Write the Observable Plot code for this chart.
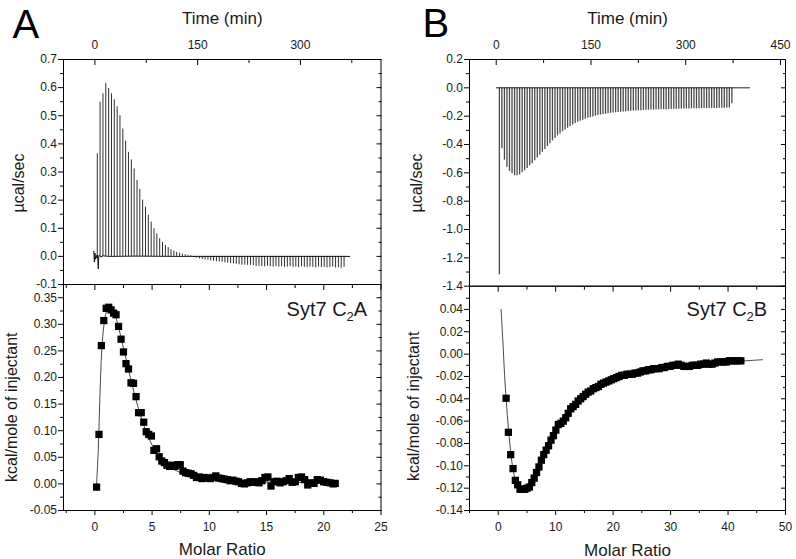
<!DOCTYPE html>
<html><head><meta charset="utf-8">
<script src="https://cdn.jsdelivr.net/npm/d3@7"></script>
<script src="https://cdn.jsdelivr.net/npm/@observablehq/plot@0.6"></script>
<style>
html,body{margin:0;padding:0;background:#fff;}
#chart{position:relative;width:796px;height:559px;overflow:hidden;background:#fff;}
#chart svg{position:absolute;left:0;top:0;}
</style></head><body><div id="chart"></div>
<script>
const W = 796, H = 559;
const FONT = '"Liberation Sans", Arial, Helvetica, sans-serif';

// ---------- Panel A (Syt7 C2A) raw thermogram ----------
const timeA = [3.5,7.6,11.8,15.9,20.1,24.2,28.3,32.5,36.6,40.8,44.9,49.0,53.2,57.3,61.5,65.6,69.7,73.9,78.0,82.2,
  86.3,90.4,94.6,98.7,102.9,107.0,111.1,115.3,119.4,123.6,127.7,131.8,136.0,140.1,144.3,148.4,152.5,156.7,160.8,165.0,
  169.1,173.2,177.4,181.5,185.7,189.8,193.9,198.1,202.2,206.4,210.5,214.6,218.8,222.9,227.1,231.2,235.3,239.5,243.6,247.8,
  251.9,256.0,260.2,264.3,268.5,272.6,276.7,280.9,285.0,289.2,293.3,297.4,301.6,305.7,309.9,314.0,318.1,322.3,326.4,330.6,
  334.7,338.8,343.0,347.1,351.3,355.4,359.5,363.7];
const peakA = [0.365,0.548,0.578,0.615,0.597,0.578,0.557,0.532,0.500,0.453,0.410,0.370,0.343,0.311,0.270,0.238,0.200,0.175,0.146,0.122,
  0.098,0.080,0.063,0.050,0.039,0.031,0.024,0.019,0.014,0.011,0.008,0.006,0.004,0.003,-0.004,-0.006,-0.009,-0.011,-0.013,-0.014,
  -0.016,-0.017,-0.019,-0.020,-0.021,-0.023,-0.024,-0.026,-0.027,-0.028,-0.030,-0.031,-0.031,-0.032,-0.032,-0.033,-0.036,-0.035,-0.036,-0.037,
  -0.035,-0.037,-0.038,-0.036,-0.038,-0.037,-0.039,-0.038,-0.036,-0.039,-0.038,-0.040,-0.037,-0.039,-0.040,-0.038,-0.039,-0.041,-0.038,-0.040,
  -0.039,-0.041,-0.040,-0.038,-0.041,-0.040,-0.042,-0.039];
const baseTimeA = [-1.5,-0.8,0,1.0,2.0,3.0,4.0,5.0,5.6,6.2,8,12,20,60,120,200,372];
const baseValA  = [0.018,-0.020,0.012,-0.010,0.004,-0.006,0.003,-0.045,0.000,0.004,-0.002,0.002,0.000,0.001,0.000,0.000,0.000];

// ---------- Panel A integrated heats ----------
const ratioA = [0.15,0.36,0.57,0.78,0.99,1.21,1.42,1.64,1.85,2.07,2.29,2.50,2.72,2.94,3.16,3.38,3.60,3.82,4.05,4.27,
  4.49,4.71,4.94,5.16,5.39,5.62,5.85,6.07,6.30,6.53,6.77,7.00,7.23,7.46,7.70,7.93,8.17,8.41,8.64,8.88,
  9.12,9.36,9.60,9.84,10.09,10.33,10.57,10.82,11.06,11.31,11.56,11.81,12.06,12.31,12.56,12.81,13.06,13.32,13.57,13.83,
  14.09,14.34,14.60,14.86,15.12,15.39,15.65,15.91,16.18,16.44,16.71,16.98,17.24,17.51,17.78,18.06,18.33,18.60,18.88,19.15,
  19.43,19.71,19.99,20.27,20.55,20.83,21.00];
const heatA = [-0.006,0.093,0.260,0.307,0.330,0.332,0.327,0.321,0.318,0.296,0.272,0.248,0.226,0.216,0.190,0.189,0.164,0.134,0.134,0.116,
  0.098,0.093,0.090,0.063,0.066,0.051,0.043,0.040,0.035,0.033,0.035,0.033,0.036,0.036,0.024,0.021,0.020,0.019,0.016,0.012,
  0.013,0.010,0.012,0.011,0.010,0.012,0.015,0.011,0.010,0.009,0.008,0.006,0.007,0.005,0.004,0.001,0.000,0.002,0.004,0.003,
  0.004,0.002,0.006,0.012,0.013,-0.004,0.004,0.005,0.002,0.004,0.006,0.010,0.003,0.004,0.012,0.013,0.008,-0.002,0.002,0.001,
  0.008,0.007,0.004,0.003,0.002,0.000,0.001];
const fitRatioA = [0.12,0.3,0.45,0.6,0.8,1.0,1.2,1.4,1.6,1.8,2.0,2.2,2.5,2.8,3.1,3.4,3.7,4.0,4.3,4.6,5.0,5.5,6.0,6.5,7.0,8.0,9.0,10,12,14,17,21];
const fitHeatA  = [-0.012,0.065,0.170,0.250,0.300,0.323,0.332,0.331,0.325,0.315,0.300,0.283,0.255,0.228,0.200,0.174,0.150,0.128,0.109,0.092,0.073,0.055,0.042,0.033,0.026,0.017,0.012,0.009,0.006,0.004,0.003,0.002];

// ---------- Panel B (Syt7 C2B) raw thermogram ----------
const timeB = [5,9,13,17,21,25,29,33,37,41,45,49,53,57,61,65,69,73,77,81,85,89,93,97,101,105,109,113,117,121,
  125,129,133,137,141,145,149,153,157,161,165,169,173,177,181,185,189,193,197,201,205,209,213,217,221,225,229,233,237,241,
  245,249,253,257,261,265,269,273,277,281,285,289,293,297,301,305,309,313,317,321,325,329,333,337,341,345,349,353,357,361,
  365,369,373];
const peakB = [-1.32,-0.43,-0.51,-0.56,-0.59,-0.607,-0.62,-0.62,-0.615,-0.60,-0.585,-0.57,-0.55,-0.535,-0.515,-0.495,-0.475,-0.455,-0.435,-0.415,
  -0.395,-0.375,-0.357,-0.340,-0.325,-0.310,-0.297,-0.285,-0.273,-0.262,-0.252,-0.243,-0.235,-0.228,-0.221,-0.215,-0.210,-0.205,-0.200,-0.196,
  -0.192,-0.189,-0.186,-0.183,-0.180,-0.178,-0.176,-0.174,-0.172,-0.170,-0.168,-0.167,-0.165,-0.164,-0.163,-0.162,-0.161,-0.160,-0.159,-0.158,
  -0.157,-0.157,-0.156,-0.155,-0.155,-0.154,-0.154,-0.153,-0.152,-0.152,-0.151,-0.151,-0.150,-0.150,-0.149,-0.149,-0.148,-0.148,-0.148,-0.147,
  -0.147,-0.146,-0.146,-0.146,-0.145,-0.145,-0.145,-0.144,-0.144,-0.144,-0.143,-0.143,-0.113];
const baseTimeB = [0,401];
const baseValB  = [0,0];

// ---------- Panel B integrated heats ----------
const ratioB = [1.37,1.77,2.17,2.58,2.98,3.39,3.79,4.20,4.61,5.02,5.43,5.84,6.26,6.67,7.09,7.51,7.92,8.34,8.76,9.19,
  9.61,10.03,10.46,10.89,11.32,11.75,12.18,12.61,13.04,13.48,13.91,14.35,14.79,15.22,15.66,16.10,16.55,16.99,17.44,17.88,
  18.33,18.78,19.23,19.68,20.13,20.59,21.04,21.50,21.95,22.41,22.87,23.33,23.79,24.26,24.72,25.19,25.65,26.12,26.59,27.06,
  27.53,28.00,28.48,28.95,29.43,29.90,30.38,30.86,31.34,31.83,32.31,32.79,33.28,33.77,34.26,34.75,35.24,35.73,36.22,36.72,
  37.21,37.71,38.21,38.71,39.21,39.71,40.21,40.71,41.22,41.73,42.23];
const heatB = [-0.0395,-0.070,-0.090,-0.1025,-0.113,-0.117,-0.121,-0.121,-0.121,-0.120,-0.119,-0.115,-0.111,-0.106,-0.101,-0.095,-0.090,-0.086,-0.082,-0.077,
  -0.073,-0.068,-0.063,-0.062,-0.060,-0.057,-0.053,-0.049,-0.047,-0.045,-0.042,-0.040,-0.038,-0.036,-0.034,-0.033,-0.031,-0.030,-0.029,-0.027,
  -0.026,-0.025,-0.024,-0.023,-0.022,-0.021,-0.020,-0.019,-0.019,-0.018,-0.018,-0.018,-0.017,-0.017,-0.016,-0.015,-0.015,-0.014,-0.014,-0.013,
  -0.013,-0.013,-0.012,-0.012,-0.011,-0.011,-0.010,-0.010,-0.009,-0.010,-0.011,-0.011,-0.011,-0.010,-0.010,-0.010,-0.009,-0.009,-0.008,-0.009,
  -0.009,-0.008,-0.007,-0.007,-0.007,-0.007,-0.006,-0.006,-0.006,-0.006,-0.006];
const fitRatioB = [0.5,0.8,1.1,1.4,1.8,2.2,2.6,3.0,3.5,4.0,4.5,5.0,5.5,6.0,7.0,8.0,9.0,10,11,12,13,14,15,16,18,20,22,24,26,28,30,33,36,40,43,46];
const fitHeatB  = [0.040,0.012,-0.018,-0.042,-0.068,-0.089,-0.104,-0.113,-0.119,-0.121,-0.121,-0.1195,-0.117,-0.113,-0.102,-0.090,-0.079,-0.069,-0.061,-0.054,-0.048,-0.042,-0.037,-0.033,-0.027,-0.022,-0.019,-0.017,-0.015,-0.013,-0.011,-0.010,-0.008,-0.007,-0.006,-0.005];

// ---------- tick values / labels ----------
const timeTicksA = [0,150,300], timeMinorA = [75,225,375];
const muTicksA = [-0.1,0,0.1,0.2,0.3,0.4,0.5,0.6,0.7];
const muMinorA = [-0.05,0.05,0.15,0.25,0.35,0.45,0.55,0.65];
const heatTicksA = [-0.05,0,0.05,0.1,0.15,0.2,0.25,0.3,0.35];
const heatMinorA = [-0.025,0.025,0.075,0.125,0.175,0.225,0.275,0.325];
const ratioTicksA = [0,5,10,15,20,25], ratioMinorA = [-2.5,2.5,7.5,12.5,17.5,22.5];

const timeTicksB = [0,150,300,450], timeMinorB = [75,225,375];
const muTicksB = [-1.4,-1.2,-1.0,-0.8,-0.6,-0.4,-0.2,0,0.2];
const muMinorB = [-1.3,-1.1,-0.9,-0.7,-0.5,-0.3,-0.1,0.1];
const heatTicksB = [-0.14,-0.12,-0.10,-0.08,-0.06,-0.04,-0.02,0,0.02,0.04];
const heatMinorB = [-0.13,-0.11,-0.09,-0.07,-0.05,-0.03,-0.01,0.01,0.03,0.05];
const ratioTicksB = [0,10,20,30,40,50], ratioMinorB = [-5,5,15,25,35,45];

const labelsText = {
  panelA: "A", panelB: "B", time: "Time (min)", power: "µcal/sec",
  heat: "kcal/mole of injectant", ratio: "Molar Ratio", nameA: "Syt7 C2A", nameB: "Syt7 C2B"
};

// ---------- tables ----------
const spikesA = timeA.map((t, i) => ({t, v: peakA[i]}));
const spikesB = timeB.map((t, i) => ({t, v: peakB[i]}));
const baseA = baseTimeA.map((t, i) => ({t, v: baseValA[i]}));
const baseB = baseTimeB.map((t, i) => ({t, v: baseValB[i]}));
const ptsA = ratioA.map((r, i) => ({r, h: heatA[i]}));
const ptsB = ratioB.map((r, i) => ({r, h: heatB[i]}));
const fitA = fitRatioA.map((r, i) => ({r, h: fitHeatA[i]}));
const fitB = fitRatioB.map((r, i) => ({r, h: fitHeatB[i]}));

const fmt = n => d => d.toFixed(n);
const TXT = "#1a1a1a";
const TICKFONT = 12;

function frameAxes(o) {
  const m = [Plot.frame({stroke: "#000", strokeWidth: 1})];
  // left axis: labelled major ticks outward + minor outward
  m.push(Plot.axisY(o.yTicks, {anchor: "left", tickSize: 5, tickPadding: 1.5, tickFormat: o.yFmt, fill: TXT, label: null, fontSize: TICKFONT}));
  m.push(Plot.axisY(o.yMinor, {anchor: "left", tickSize: 3, fill: "none", label: null}));
  // right axis: inward ticks
  m.push(Plot.axisY(o.yTicks, {anchor: "right", tickSize: 5, dx: -5, fill: "none", label: null}));
  m.push(Plot.axisY(o.yMinor, {anchor: "right", tickSize: 3, dx: -3, fill: "none", label: null}));
  if (o.xAnchor === "top") {
    m.push(Plot.axisX(o.xTicks, {anchor: "top", tickSize: 0, tickPadding: 10.7, tickFormat: o.xFmt, fill: TXT, label: null, fontSize: TICKFONT}));
    m.push(Plot.axisX(o.xTicks, {anchor: "top", tickSize: 5, dy: 5, fill: "none", label: null}));
    m.push(Plot.axisX(o.xMinor, {anchor: "top", tickSize: 3, dy: 3, fill: "none", label: null}));
  } else {
    m.push(Plot.axisX(o.xTicks, {anchor: "bottom", tickSize: 5, tickPadding: 6.5, tickFormat: o.xFmt, fill: TXT, label: null, fontSize: TICKFONT}));
    m.push(Plot.axisX(o.xMinor, {anchor: "bottom", tickSize: 3, fill: "none", label: null}));
    // inward ticks along the top edge (shared border with the upper panel)
    m.push(Plot.axisX(o.xTicks, {anchor: "top", tickSize: 5, dy: 5, fill: "none", label: null}));
    m.push(Plot.axisX(o.xMinor, {anchor: "top", tickSize: 3, dy: 3, fill: "none", label: null}));
  }
  return m;
}

function makePlot(box, marks) {
  return Plot.plot({
    width: W, height: H,
    marginLeft: box.l, marginRight: W - box.r, marginTop: box.t, marginBottom: H - box.b,
    x: {domain: box.xd}, y: {domain: box.yd},
    style: {background: "transparent", fontFamily: FONT, fontSize: "12px", color: "#000", overflow: "visible"},
    marks
  });
}

const yLab = (text, dx, dy) => Plot.text([text], {text: d => d, frameAnchor: "left", rotate: -90, dx, dy, fontSize: 16, fill: TXT, textAnchor: "middle", lineAnchor: "middle"});

// Panel A top
const pAtop = makePlot({l: 63, r: 380.5, t: 59, b: 284, xd: [-45.8, 417.6], yd: [-0.1, 0.7]}, [
  ...frameAxes({xAnchor: "top", xTicks: timeTicksA, xMinor: timeMinorA, xFmt: d => String(d), yTicks: muTicksA, yMinor: muMinorA, yFmt: fmt(1)}),
  Plot.ruleX(spikesA, {x: "t", y1: 0, y2: "v", stroke: "#2e2e2e", strokeWidth: 1}),
  Plot.line(baseA, {x: "t", y: "v", stroke: "#111", strokeWidth: 1}),
  Plot.text([labelsText.time], {text: d => d, frameAnchor: "top", dy: -41, fontSize: 17, fill: TXT, lineAnchor: "middle"}),
  Plot.text([labelsText.panelA], {text: d => d, frameAnchor: "top-left", dx: -51, dy: -22, fontSize: 40, fill: "#000", textAnchor: "start", lineAnchor: "bottom"}),
  yLab(labelsText.power, -44.6, 11)
]);

// Panel A bottom
const pAbot = makePlot({l: 63, r: 380.5, t: 284, b: 510, xd: [-2.74, 25], yd: [-0.05, 0.3748]}, [
  ...frameAxes({xAnchor: "bottom", xTicks: ratioTicksA, xMinor: ratioMinorA, xFmt: d => String(d), yTicks: heatTicksA, yMinor: heatMinorA, yFmt: fmt(2)}),
  Plot.line(fitA, {x: "r", y: "h", stroke: "#333", strokeWidth: 0.9, curve: "catmull-rom"}),
  Plot.dot(ptsA, {x: "r", y: "h", symbol: "square", r: 4.1, fill: "#000", stroke: "none"}),
  Plot.text([labelsText.nameA], {text: d => d, frameAnchor: "top-right", dx: -13.8, dy: 31, fontSize: 20, fill: TXT, textAnchor: "end", lineAnchor: "bottom"}),
  Plot.text([labelsText.ratio], {text: d => d, frameAnchor: "bottom", dy: 39.5, fontSize: 17, fill: TXT, lineAnchor: "middle"}),
  yLab(labelsText.heat, -51.6, 9.7)
]);

// Panel B top
const pBtop = makePlot({l: 469, r: 785, t: 59, b: 285.7, xd: [-42.3, 457.9], yd: [-1.4, 0.2]}, [
  ...frameAxes({xAnchor: "top", xTicks: timeTicksB, xMinor: timeMinorB, xFmt: d => String(d), yTicks: muTicksB, yMinor: muMinorB, yFmt: fmt(1)}),
  Plot.ruleX(spikesB, {x: "t", y1: 0, y2: "v", stroke: "#4a4a4a", strokeWidth: 1.3}),
  Plot.line(baseB, {x: "t", y: "v", stroke: "#222", strokeWidth: 1}),
  Plot.text([labelsText.time], {text: d => d, frameAnchor: "top", dy: -41, fontSize: 17, fill: TXT, lineAnchor: "middle"}),
  Plot.text([labelsText.panelB], {text: d => d, frameAnchor: "top-left", dx: -47, dy: -22.3, fontSize: 40, fill: "#000", textAnchor: "start", lineAnchor: "bottom"}),
  yLab(labelsText.power, -52.6, 10.2)
]);

// Panel B bottom
const pBbot = makePlot({l: 469, r: 785, t: 285.7, b: 510, xd: [-5, 50], yd: [-0.14, 0.0608]}, [
  ...frameAxes({xAnchor: "bottom", xTicks: ratioTicksB, xMinor: ratioMinorB, xFmt: d => String(d), yTicks: heatTicksB, yMinor: heatMinorB, yFmt: fmt(2)}),
  Plot.line(fitB, {x: "r", y: "h", stroke: "#333", strokeWidth: 0.9, curve: "catmull-rom"}),
  Plot.dot(ptsB, {x: "r", y: "h", symbol: "square", r: 4.1, fill: "#000", stroke: "none"}),
  Plot.text([labelsText.nameB], {text: d => d, frameAnchor: "top-right", dx: -18.3, dy: 29.3, fontSize: 20, fill: TXT, textAnchor: "end", lineAnchor: "bottom"}),
  Plot.text([labelsText.ratio], {text: d => d, frameAnchor: "bottom", dy: 40, fontSize: 17, fill: TXT, lineAnchor: "middle"}),
  yLab(labelsText.heat, -55.9, 8)
]);

// subscript "2" in the protein names
const NS = "http://www.w3.org/2000/svg";
function subscripts(svg) {
  svg.querySelectorAll("text").forEach(t => {
    const m = t.textContent.match(/^(Syt7 C)2([AB])$/);
    if (!m) return;
    t.textContent = "";
    const a = document.createElementNS(NS, "tspan"); a.textContent = m[1];
    const b = document.createElementNS(NS, "tspan"); b.textContent = "2";
    b.setAttribute("font-size", "13"); b.setAttribute("dy", "5");
    const c = document.createElementNS(NS, "tspan"); c.textContent = m[2];
    c.setAttribute("dy", "-5");
    t.append(a, b, c);
  });
}

const chart = document.getElementById("chart");
[pAtop, pAbot, pBtop, pBbot].forEach(svg => { subscripts(svg); chart.appendChild(svg); });
</script>
</body></html>
